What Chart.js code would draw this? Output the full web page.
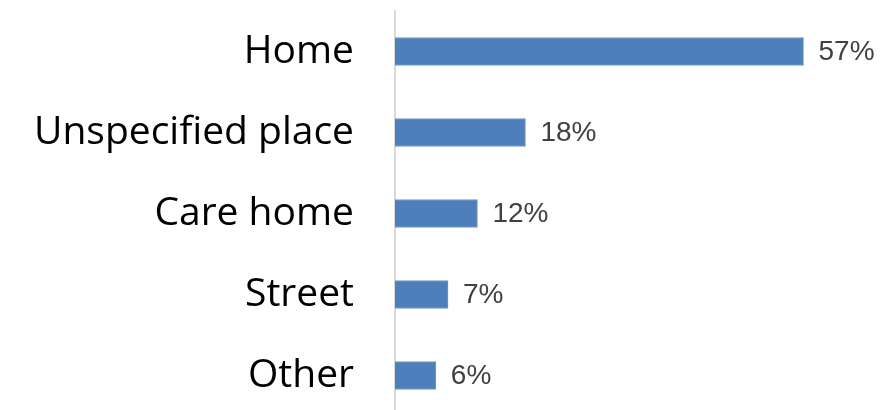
<!DOCTYPE html>
<html>
<head>
<meta charset="utf-8">
<script src="https://cdn.jsdelivr.net/npm/chart.js@4/dist/chart.umd.min.js"></script>
<style>
    html, body { margin: 0; padding: 0; background: #fff; overflow: hidden; }
    #wrap { width: 880px; height: 418px; }
</style>
</head>
<body>
<div id="wrap"><canvas id="place-chart" width="880" height="418"></canvas></div>
<script>
    // Chart data
    const categories = ['Home', 'Unspecified place', 'Care home', 'Street', 'Other'];
    const shares = [57, 18.2, 11.5, 7.4, 5.7];
    const valueLabels = ['57%', '18%', '12%', '7%', '6%'];

    // Draw the value text at the end of each bar
    const valueLabelPlugin = {
        id: 'valueLabels',
        afterDatasetsDraw(chart) {
            const ctx = chart.ctx;
            const meta = chart.getDatasetMeta(0);
            ctx.save();
            ctx.font = '28px "Liberation Sans", Arial, sans-serif';
            ctx.fillStyle = '#404040';
            ctx.textAlign = 'left';
            ctx.textBaseline = 'middle';
            meta.data.forEach((bar, i) => {
                ctx.fillText(valueLabels[i], bar.x + 15, bar.y + 1);
            });
            ctx.restore();
        }
    };

    const ctx = document.getElementById('place-chart').getContext('2d');
    new Chart(ctx, {
        type: 'bar',
        data: {
            labels: categories,
            datasets: [{
                data: shares,
                backgroundColor: '#4e7fbb',
                borderColor: '#7199cb',
                borderWidth: 1,
                barThickness: 28
            }]
        },
        options: {
            indexAxis: 'y',
            responsive: false,
            animation: false,
            layout: {
                padding: { top: 11, bottom: 2, left: 0, right: 55 }
            },
            plugins: {
                legend: { display: false },
                tooltip: { enabled: false }
            },
            scales: {
                x: {
                    display: false,
                    min: 0,
                    max: 60
                },
                y: {
                    grid: { display: false, drawTicks: false },
                    border: { display: true, color: '#d9d9d9', width: 2 },
                    ticks: {
                        color: '#000000',
                        padding: 41,
                        font: { family: '"Open Sans", sans-serif', size: 39 }
                    },
                    afterFit: function(scale) {
                        // keep the label column fixed and stop big labels eating vertical room
                        scale.width = 395;
                        scale.paddingTop = 0;
                        scale.paddingBottom = 0;
                    }
                }
            }
        },
        plugins: [valueLabelPlugin]
    });
</script>
</body>
</html>
